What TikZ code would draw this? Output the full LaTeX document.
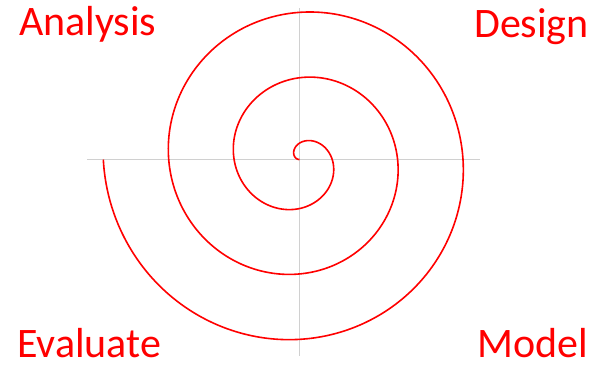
\documentclass[tikz,border=0pt]{standalone}
\usepackage{fontspec}
\setmainfont{Carlito}
\definecolor{axisgray}{HTML}{D0D0D0}
\tikzset{
  label/.style={text=red, font=\fontsize{42}{42}\selectfont, inner sep=0pt, anchor=base west},
  axis/.style={draw=axisgray, line width=1.8pt},
  spiral/.style={draw=red, line width=1.6pt}
}
\begin{document}
\begin{tikzpicture}[x=1pt,y=1pt]
\useasboundingbox (0,0) rectangle (601,368);
% axes
\coordinate (hl) at (87,208.5);
\coordinate (hr) at (480,208.5);
\coordinate (vt) at (299.5,360);
\coordinate (vb) at (299.5,12);
\draw[axis] (hl) -- (hr);
\draw[axis] (vt) -- (vb);
% spiral
\draw[spiral, domain=-180:900, samples=600, variable=\t, smooth]
  plot ({299.5 + 32.7*(1+\t/180)*cos(-\t)}, {208.5 + 32.7*(1+\t/180)*sin(-\t)});
% labels
\node[label] (analysis) at (19,333) {Analysis};
\node[label] (design) at (474,331) {Design};
\node[label] (evaluate) at (17,11) {Evaluate};
\node[label] (model) at (477,11) {Model};
\end{tikzpicture}
\end{document}
